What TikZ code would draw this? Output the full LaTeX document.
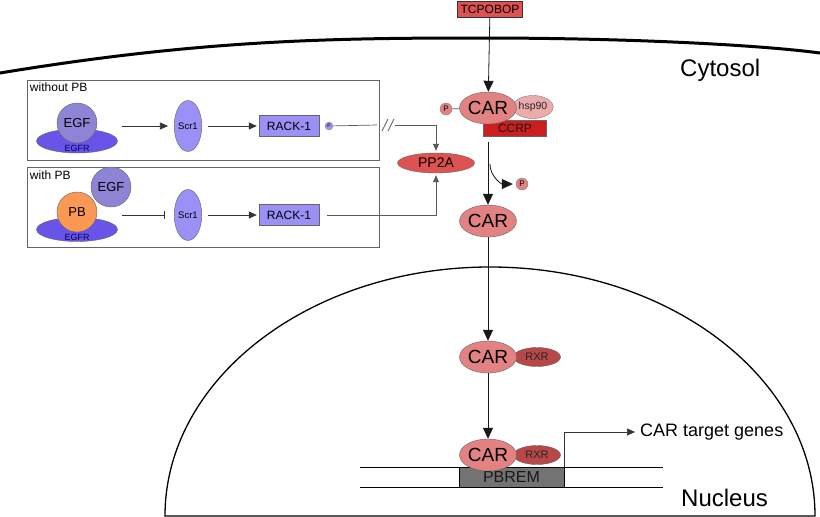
\documentclass[tikz,border=0pt]{standalone}
\usepackage{fontspec}
\setmainfont{Liberation Sans}
\definecolor{carRed}{RGB}{226, 130, 130}
\definecolor{hspRed}{RGB}{236, 172, 172}
\definecolor{ccrpRed}{RGB}{204, 30, 30}
\definecolor{ppRed}{RGB}{222, 82, 82}
\definecolor{rxrRed}{RGB}{184, 72, 72}
\definecolor{egfrBlue}{RGB}{104, 84, 232}
\definecolor{egfBlue}{RGB}{142, 132, 214}
\definecolor{scrBlue}{RGB}{154, 144, 246}
\definecolor{pbOrange}{RGB}{250, 152, 84}
\usetikzlibrary{shapes.geometric, arrows.meta, positioning}

\newcommand{\fs}[1]{\fontsize{#1}{#1}\selectfont}

\begin{document}
\begin{tikzpicture}[x=1pt, y=-1pt, every node/.style={inner sep=0pt, font=\fs{12}},
  car/.style={ellipse, draw=black!60, fill=carRed, minimum width=57pt, minimum height=32pt, font=\fs{19}},
  rxr/.style={ellipse, draw=black!60, fill=rxrRed, minimum width=47pt, minimum height=19pt, font=\fs{11}, text=black!85},
  phos/.style={circle, draw=black!50, fill=carRed, minimum size=12pt, font=\fs{8}},
  panel/.style={draw=black!60, minimum width=352pt, minimum height=80pt},
  egfr/.style={ellipse, draw=black!60, fill=egfrBlue, minimum width=81pt, minimum height=24pt},
  ball/.style={circle, draw=black!60, minimum size=40pt, font=\fs{13}},
  scr/.style={ellipse, draw=black!60, fill=scrBlue, minimum width=25pt, minimum height=51pt, font=\fs{9.5}},
  rack/.style={rectangle, draw=black!60, fill=scrBlue, minimum width=60pt, minimum height=21pt, font=\fs{12}},
  bigarrow/.style={-{Triangle[length=11pt, width=10pt]}, black!90, line width=0.8pt},
  smallarrow/.style={-{Triangle[length=8pt, width=7pt]}, black!80, line width=0.7pt},
  link/.style={black!65, line width=0.7pt}]

  \useasboundingbox[fill=white] (0,0) rectangle (820,517);

  % cell membrane and nucleus
  \draw[line width=3pt] (0,73) .. controls (200,40) and (330,38) .. (480,38) .. controls (630,38) and (760,45) .. (820,53);
  \draw[line width=1.3pt] (165,516) arc[start angle=180, end angle=360, x radius=325, y radius=249] -- cycle;
  \node[font=\fs{24}, anchor=west] (cyto) at (680,70) {Cytosol};
  \node[font=\fs{24}, anchor=west] (nuc) at (681,498) {Nucleus};

  % CAR in the cytosol
  \node[draw=black!80, fill=ppRed, minimum width=65pt, minimum height=16pt, font=\fs{12}] (tcpobop) at (490,9) {TCPOBOP};
  \node[ellipse, draw=black!50, fill=hspRed, minimum width=40pt, minimum height=23pt, font=\fs{10.5}, text=black!85] (hsp) at (533,107) {hsp90};
  \node[fill=ccrpRed, draw=black!60, minimum width=63pt, minimum height=16pt, font=\fs{12}, text=black!90] (ccrp) at (515,128) {CCRP};
  \node[car] (car1) at (488,108) {CAR};
  \node[phos] (pcar) at (446,109) {P};
  \draw[link] (pcar) -- (car1);
  \node[car] (car2) at (488,221) {CAR};
  \node[phos] (pfree) at (522,184) {P};
  \node[ellipse, draw=black!60, fill=ppRed, minimum width=77pt, minimum height=20pt, font=\fs{14}] (pp2a) at (436,163) {PP2A};

  \draw[bigarrow] (tcpobop) -- (car1);
  \draw[bigarrow] ([yshift=-6pt]car1 |- ccrp.south) -- (car2);
  \draw[bigarrow] ([xshift=2pt, yshift=-28pt]car1 |- ccrp.south) to[out=-90, in=180] ([xshift=-3pt]pfree.west);

  % without PB
  \node[panel] (boxa) at (203,120) {};
  \node[anchor=north west] (laba) at ([shift={(3pt,-3pt)}]boxa.north west) {without PB};
  \node[egfr] (egfra) at (77,141) {};
  \node[font=\fs{9}, text=blue!40!black] (egfrlba) at (77,148) {EGFR};
  \node[ball, fill=egfBlue] (egfa) at (77,123) {EGF};
  \node[scr] (scra) at (188,126) {Scr1};
  \node[rack] (racka) at (289,126) {RACK-1};
  \node[circle, draw=black!40, fill=scrBlue, minimum size=8pt, font=\fs{5}] (pa) at (329,126) {P};
  \draw[smallarrow] ([xshift=4pt]egfra.east |- scra) -- ([xshift=-6pt]scra.west);
  \draw[smallarrow] ([xshift=6pt]scra.east) -- ([xshift=-2pt]racka.west);

  % with PB
  \node[panel] (boxb) at (203,207.5) {};
  \node[anchor=north west] (labb) at ([shift={(3pt,-3pt)}]boxb.north west) {with PB};
  \node[egfr] (egfrb) at (77,229.5) {};
  \node[font=\fs{9}, text=blue!40!black] (egfrlbb) at (77,237) {EGFR};
  \node[ball, fill=pbOrange] (pb) at (77,212) {PB};
  \node[ball, fill=egfBlue] (egfb) at (111,187) {EGF};
  \node[scr] (scrb) at (188,215) {Scr1};
  \node[rack] (rackb) at (289,215) {RACK-1};
  \draw[black!80, line width=0.7pt, -{Bar[width=8pt]}] ([xshift=4pt]egfrb.east |- scrb) -- ([xshift=-9pt]scrb.west);
  \draw[smallarrow] ([xshift=6pt]scrb.east) -- ([xshift=-2pt]rackb.west);

  % signals to PP2A
  \coordinate (cuta) at (377,125);
  \coordinate (cutb) at (395,125);
  \draw[link] (pa) -- (cuta);
  \draw[link] (382,131) -- (388,119) (388,131) -- (394,119);
  \draw[link, -{Triangle[length=7pt, width=6pt]}] (cutb) -| ([yshift=2pt]pp2a.north);
  \draw[link, -{Triangle[length=7pt, width=6pt]}] ([xshift=8pt]rackb.east) -| ([yshift=-2pt]pp2a.south);

  % CAR in the nucleus
  \node[rxr] (rxr3) at (537,357) {RXR};
  \node[car] (car3) at (488,357) {CAR};
  \draw[bigarrow] (car2) -- (car3);

  \draw[line width=0.8pt] (360,467) -- (663,467) (360,487) -- (663,487);
  \node[draw=black, fill=black!55, minimum width=105pt, minimum height=20pt, font=\fs{16}, text=black!90] (pbrem) at (511.5,477) {PBREM};
  \node[rxr] (rxr4) at (537,455) {RXR};
  \node[car] (car4) at (488,455) {CAR};
  \draw[bigarrow] (car3) -- (car4);
  \node[font=\fs{18}, anchor=west] (genes) at (640,432) {CAR target genes};
  \draw[smallarrow] (pbrem.north east) |- ([xshift=-5pt]genes.west);
\end{tikzpicture}
\end{document}
